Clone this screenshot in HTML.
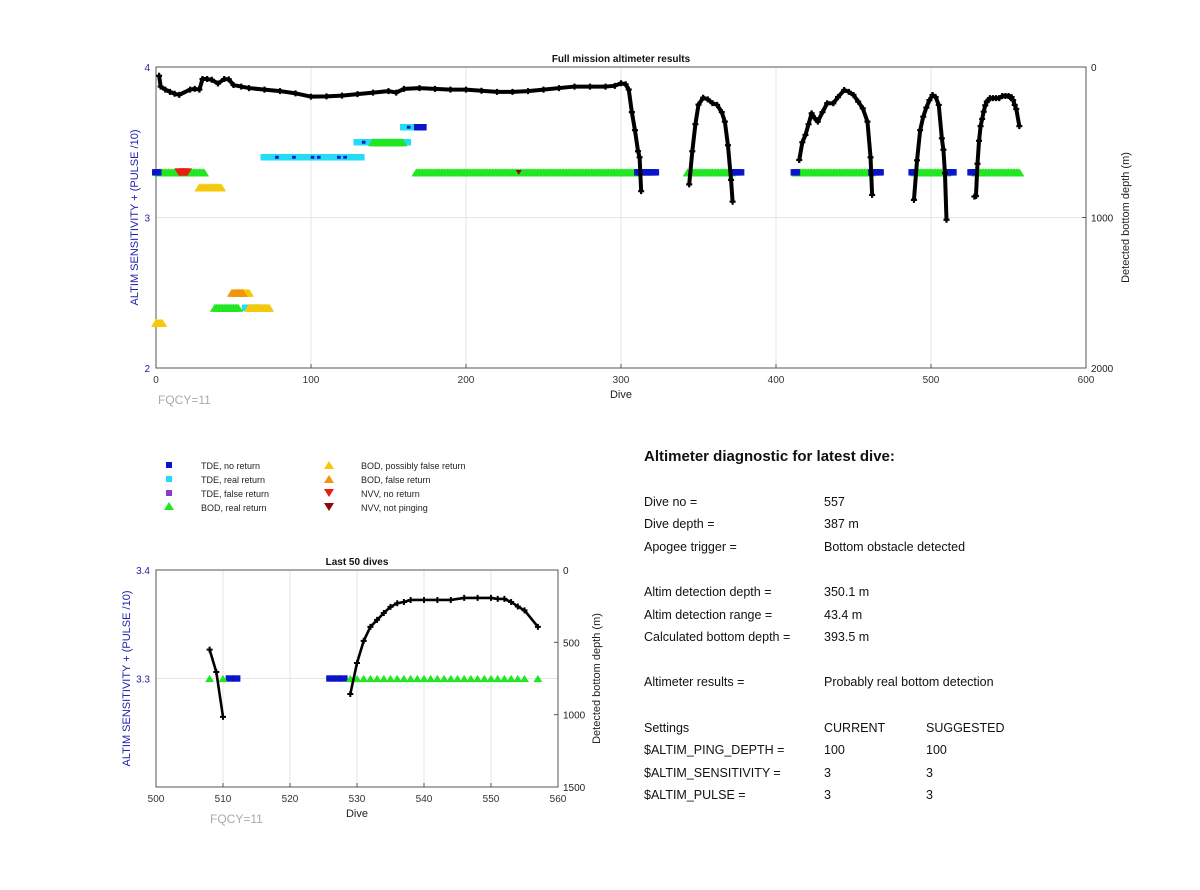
<!DOCTYPE html>
<html><head><meta charset="utf-8"><style>
body{margin:0;background:#fff;font-family:"Liberation Sans",Arial,sans-serif}
svg text{font-family:"Liberation Sans",Arial,sans-serif}
</style></head><body>
<svg id="s" width="1200" height="885" xmlns="http://www.w3.org/2000/svg">
<rect width="1200" height="885" fill="#fff"/>
<g id="top"></g>
<g id="bot"></g>
<g font-size="9" fill="#222">
<rect x="166" y="462" width="6" height="6" fill="#0a14c8"/><text x="201" y="469">TDE, no return</text>
<rect x="166" y="476" width="6" height="6" fill="#22ddf5"/><text x="201" y="483">TDE, real return</text>
<rect x="166" y="490" width="6" height="6" fill="#8a3cd0"/><text x="201" y="497">TDE, false return</text>
<polygon points="164,510 169,502 174,510" fill="#22e622"/><text x="201" y="511">BOD, real return</text>
<polygon points="324,469 329,461 334,469" fill="#f5c80a"/><text x="361" y="469">BOD, possibly false return</text>
<polygon points="324,483 329,475 334,483" fill="#f0960a"/><text x="361" y="483">BOD, false return</text>
<polygon points="324,489 334,489 329,497" fill="#e61e14"/><text x="361" y="497">NVV, no return</text>
<polygon points="324,503 334,503 329,511" fill="#8c0a0a"/><text x="361" y="511">NVV, not pinging</text>
</g>
<g font-size="12.5" fill="#111">
<text x="644" y="461" font-size="15" font-weight="bold">Altimeter diagnostic for latest dive:</text>
<text x="644" y="506">Dive no =</text><text x="824" y="506">557</text>
<text x="644" y="528">Dive depth =</text><text x="824" y="528">387 m</text>
<text x="644" y="551">Apogee trigger =</text><text x="824" y="551">Bottom obstacle detected</text>
<text x="644" y="596">Altim detection depth =</text><text x="824" y="596">350.1 m</text>
<text x="644" y="619">Altim detection range =</text><text x="824" y="619">43.4 m</text>
<text x="644" y="641">Calculated bottom depth =</text><text x="824" y="641">393.5 m</text>
<text x="644" y="686">Altimeter results =</text><text x="824" y="686">Probably real bottom detection</text>
<text x="644" y="732">Settings</text><text x="824" y="732">CURRENT</text><text x="926" y="732">SUGGESTED</text>
<text x="644" y="754">$ALTIM_PING_DEPTH =</text><text x="824" y="754">100</text><text x="926" y="754">100</text>
<text x="644" y="777">$ALTIM_SENSITIVITY =</text><text x="824" y="777">3</text><text x="926" y="777">3</text>
<text x="644" y="799">$ALTIM_PULSE =</text><text x="824" y="799">3</text><text x="926" y="799">3</text>
</g>
</svg>
<script>
// ---- Top chart data ----
const topXTicks=[0,100,200,300,400,500,600];
const topYTicks=[2,3,4];
const topDepthTicks=[0,1000,2000];
const profDives1=[2,3,6,9,12,15,22,25,28,30,33,36,40,44,47,50,55,60,70,80,90,100,110,120,130,140,150,155,160,170,180,190,200,210,220,230,240,250,260,270,280,290,296,300,303,305,307,309,311,312,313];
const profDepths1=[58,130,150,165,178,185,150,145,150,80,80,85,110,80,82,120,130,140,150,160,175,197,195,190,180,170,160,170,145,140,145,150,150,158,165,165,160,150,140,130,130,130,125,108,115,150,300,420,560,600,825];
const profDives2=[344,346,348,350,353,356,359,362,365,367,369,371,372];
const profDepths2=[780,560,380,250,204,215,240,252,300,363,520,750,895];
const profDives3=[415,417,419,421,423,425,427,430,433,437,440,444,447,450,453,456,459,461,462];
const profDepths3=[618,500,452,380,308,340,363,300,241,241,200,153,165,186,230,275,363,600,850];
const profDives4=[489,491,493,495,497,499,501,503,505,507,508,509,510];
const profDepths4=[883,620,420,330,270,220,186,200,252,474,550,705,1015];
const profDives5=[528,529,530,531,532,533,534,535,536,537,538,540,542,544,546,548,550,551,552,553,554,555,557];
const profDepths5=[861,857,643,490,393,345,297,255,230,221,207,207,207,207,193,193,193,200,200,221,252,279,393];
const bodRealRuns=[[2,31,3.3],[168,310,3.3],[343,371,3.3],[413,461,3.3],[490,510,3.3],[529,557,3.3],[140,159,3.5],[38,53,2.4]];
const bodPossFalseRuns=[[28,42,3.2],[0,4,2.3],[60,73,2.4],[54,60,2.5]];
const bodFalseRuns=[[49,56,2.5]];
const tdeRealRuns=[[70,132,3.4],[130,162,3.5],[160,172,3.6],[58,66,2.4]];
const tdeNoReturnRuns=[[0,1,3.3],[311,322,3.3],[372,377,3.3],[412,413,3.3],[462,467,3.3],[488,489,3.3],[511,514,3.3],[526,528,3.3],[169,172,3.6]];
const tdeNoReturnSingles=[[78,3.4],[89,3.4],[101,3.4],[105,3.4],[118,3.4],[122,3.4],[134,3.5],[163,3.6]];
const nvvNoReturnRuns=[[15,20,3.3]];
const nvvNotPinging=[[234,3.3]];
// ---- Bottom chart data ----
const botXTicks=[500,510,520,530,540,550,560];
const botYTicks=[3.3,3.4];
const botDepthTicks=[0,500,1000,1500];
const botBodReal=[508,510,529,530,531,532,533,534,535,536,537,538,539,540,541,542,543,544,545,546,547,548,549,550,551,552,553,554,555,557];
const botTdeNoReturn=[511,512,526,527,528];

const NS="http://www.w3.org/2000/svg";
function mk(p,tag,a){const e=document.createElementNS(NS,tag);for(const k in a)e.setAttribute(k,a[k]);p.appendChild(e);return e;}
const C={green:"#22e622",cyan:"#22ddf5",blue:"#0a14c8",yellow:"#f5c80a",orange:"#f0960a",red:"#e61e14",dred:"#8c0a0a"};

function axes(g,o){
  const X=v=>o.x0+(v-o.xmin)/(o.xmax-o.xmin)*(o.x1-o.x0);
  const Y=v=>o.y1-(v-o.ymin)/(o.ymax-o.ymin)*(o.y1-o.y0);
  const D=v=>o.y0+(v-o.dmin)/(o.dmax-o.dmin)*(o.y1-o.y0);
  o.xt.forEach(t=>{if(t>o.xmin&&t<o.xmax){const l=mk(g,"line",{x1:X(t),x2:X(t),y1:o.y0,y2:o.y1,stroke:"#e4e4e4","stroke-width":1});

}});
  o.yt.forEach(t=>{if(t>o.ymin&&t<o.ymax){const l=mk(g,"line",{x1:o.x0,x2:o.x1,y1:Y(t),y2:Y(t),stroke:"#e4e4e4","stroke-width":1});

}});
  const r=mk(g,"rect",{x:o.x0,y:o.y0,width:o.x1-o.x0,height:o.y1-o.y0,fill:"none",stroke:"#555","stroke-width":1});
  
  
  o.xt.forEach(t=>{const e=mk(g,"text",{x:X(t),y:o.y1+15,"text-anchor":"middle","font-size":10,fill:"#333"});e.textContent=t;


mk(g,"line",{x1:X(t),x2:X(t),y1:o.y1,y2:o.y1-4,stroke:"#555"});});
  o.yt.forEach(t=>{const e=mk(g,"text",{x:o.x0-6,y:Y(t)+4,"text-anchor":"end","font-size":10,fill:"#2020a8"});e.textContent=o.ytf(t);

});
  o.dt.forEach(t=>{const e=mk(g,"text",{x:o.x1+5,y:D(t)+4,"font-size":10,fill:"#222"});e.textContent=t;


mk(g,"line",{x1:o.x1,x2:o.x1-4,y1:D(t),y2:D(t),stroke:"#555"});});
  let e=mk(g,"text",{x:(o.x0+o.x1)/2,y:o.y0-5,"text-anchor":"middle","font-size":10,"font-weight":"bold",fill:"#111"});e.textContent=o.title;
  
  
  e=mk(g,"text",{x:(o.x0+o.x1)/2,y:o.y1+30,"text-anchor":"middle","font-size":11,fill:"#222"});e.textContent="Dive";
  
  
  e=mk(g,"text",{x:o.fx,y:o.y1+36,"font-size":12,fill:"#aaa"});e.textContent="FQCY=11";
  
  
  e=mk(g,"text",{transform:`translate(${o.lx},${(o.y0+o.y1)/2}) rotate(-90)`,"text-anchor":"middle","font-size":11,fill:"#2020a8"});e.textContent="ALTIM SENSITIVITY + (PULSE /10)";
  
  
  e=mk(g,"text",{transform:`translate(${o.rx},${(o.y0+o.y1)/2}) rotate(-90)`,"text-anchor":"middle","font-size":11,fill:"#222"});e.textContent="Detected bottom depth (m)";
  
  
  return {X,Y,D};
}
function tri(g,x,y,s,col,name,down){
  const p=down?`${x-s},${y-s*0.8} ${x+s},${y-s*0.8} ${x},${y+s*0.8}`:`${x-s},${y+s*0.8} ${x+s},${y+s*0.8} ${x},${y-s*0.8}`;
  const e=mk(g,"polygon",{points:p,fill:col});
  
  
}
function sq(g,x,y,s,col,name){
  const e=mk(g,"rect",{x:x-s,y:y-s*0.8,width:2*s,height:1.6*s,fill:col});
  
  
}
function profile(g,dv,dp,A,sw,ms,mw){
  const pts=dv.map((d,i)=>A.X(d)+","+A.D(dp[i])).join(" ");
  const l=mk(g,"polyline",{points:pts,fill:"none",stroke:"#000","stroke-width":sw,"stroke-linejoin":"round"});
  
  
  dv.forEach((d,i)=>{const x=A.X(d),y=A.D(dp[i]);
    const p=mk(g,"path",{d:`M${x-ms},${y}H${x+ms}M${x},${y-ms}V${y+ms}`,stroke:"#000","stroke-width":mw});
    
    });
}
const gt=document.getElementById("top");
const A=axes(gt,{x0:156,x1:1086,y0:67,y1:368,xmin:0,xmax:600,ymin:2,ymax:4,dmin:0,dmax:2000,xt:topXTicks,yt:topYTicks,dt:topDepthTicks,ytf:t=>t,title:"Full mission altimeter results",fx:158,lx:138,rx:1129});
function runs(arr,fn){arr.forEach(r=>{for(let d=r[0];d<=r[1];d++)fn(d,r[2]);});}
runs(tdeRealRuns,(d,l)=>sq(gt,A.X(d),A.Y(l),4,C.cyan,"tde-real-return"));
runs(bodRealRuns,(d,l)=>tri(gt,A.X(d),A.Y(l),5,C.green,"bod-real-return"));
runs(bodPossFalseRuns,(d,l)=>tri(gt,A.X(d),A.Y(l),5,C.yellow,"bod-possibly-false"));
runs(bodFalseRuns,(d,l)=>tri(gt,A.X(d),A.Y(l),5,C.orange,"bod-false"));
runs(tdeNoReturnRuns,(d,l)=>sq(gt,A.X(d),A.Y(l),4,C.blue,"tde-no-return"));
tdeNoReturnSingles.forEach(s=>sq(gt,A.X(s[0]),A.Y(s[1]),1.8,C.blue,"tde-no-return"));
runs(nvvNoReturnRuns,(d,l)=>tri(gt,A.X(d),A.Y(l),5,C.red,"nvv-no-return",true));
nvvNotPinging.forEach(s=>tri(gt,A.X(s[0]),A.Y(s[1]),3,C.dred,"nvv-not-pinging",true));
[[profDives1,profDepths1],[profDives2,profDepths2],[profDives3,profDepths3],[profDives4,profDepths4],[profDives5,profDepths5]].forEach(p=>profile(gt,p[0],p[1],A,4,3,2.2));
const gb=document.getElementById("bot");
const B=axes(gb,{x0:156,x1:558,y0:570,y1:787,xmin:500,xmax:560,ymin:3.2,ymax:3.4,dmin:0,dmax:1500,xt:botXTicks,yt:botYTicks,dt:botDepthTicks,ytf:t=>t.toFixed(1),title:"Last 50 dives",fx:210,lx:130,rx:600});
botTdeNoReturn.forEach(d=>sq(gb,B.X(d),B.Y(3.3),4,C.blue,"tde-no-return"));
botBodReal.forEach(d=>tri(gb,B.X(d),B.Y(3.3),4.5,C.green,"bod-real-return"));
profile(gb,profDives4.filter(d=>d>=508),profDepths4.slice(profDives4.indexOf(508)),B,2.6,3,2);
profile(gb,profDives5.slice(1),profDepths5.slice(1),B,2.6,3,2);
</script>
</body></html>
